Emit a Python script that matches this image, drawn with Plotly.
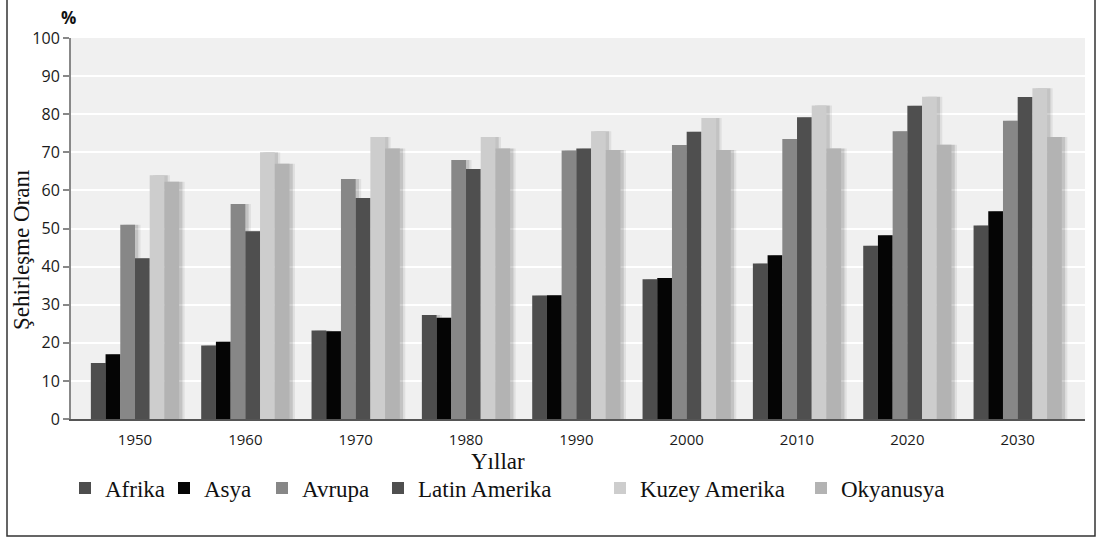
import plotly.graph_objects as go

# Urbanisation rate (%) by region and decade
years = ["1950", "1960", "1970", "1980", "1990", "2000", "2010", "2020", "2030"]
afrika = [14.7, 19.3, 23.2, 27.3, 32.4, 36.7, 40.8, 45.5, 50.8]
asya = [17.0, 20.3, 23.0, 26.6, 32.5, 37.0, 43.0, 48.2, 54.5]
avrupa = [51.0, 56.4, 63.0, 68.0, 70.5, 71.9, 73.5, 75.5, 78.3]
latin_amerika = [42.2, 49.3, 58.0, 65.6, 71.0, 75.4, 79.2, 82.2, 84.5]
kuzey_amerika = [64.0, 70.0, 74.0, 74.0, 75.5, 79.0, 82.3, 84.6, 86.8]
okyanusya = [62.3, 67.0, 71.0, 71.0, 70.6, 70.6, 71.0, 72.0, 74.0]

series = [
    ("Afrika", afrika, "#4d4d4d"),
    ("Asya", asya, "#050505"),
    ("Avrupa", avrupa, "#878787"),
    ("Latin Amerika", latin_amerika, "#4f4f4f"),
    ("Kuzey Amerika", kuzey_amerika, "#cdcdcd"),
    ("Okyanusya", okyanusya, "#b3b3b3"),
]

SERIF = "Liberation Serif, Times New Roman, serif"
SANS = "Open Sans, sans-serif"

W, H = 1101, 539
L, R, T, B = 71, 16, 38, 120
PW, PH = W - L - R, H - T - B


def px_x(px):
    return (px - L) / PW


def px_y(py):
    return (H - B - py) / PH


group_w = 0.8
bar_w = group_w / len(series)
fig = go.Figure()

# soft drop shadows behind the bars
for k, (name, vals, color) in enumerate(series):
    off = -group_w / 2 + k * bar_w
    for shift, alpha in ((0.05, 0.07), (0.03, 0.12)):
        fig.add_trace(go.Bar(
            x=years, y=vals, width=bar_w, offset=off + shift,
            marker=dict(color=f"rgba(0,0,0,{alpha})", line=dict(width=0)),
            showlegend=False, hoverinfo="skip",
        ))

legend_centers = [85, 184, 282, 398, 620, 821]
legend_names = ["legend", "legend2", "legend3", "legend4", "legend5", "legend6"]

for k, (name, vals, color) in enumerate(series):
    off = -group_w / 2 + k * bar_w
    fig.add_trace(go.Bar(
        x=years, y=vals, name=name, width=bar_w, offset=off,
        marker=dict(color=color, line=dict(width=0)),
        legend=legend_names[k],
    ))

legend_font = dict(family=SERIF, size=23, color="#111")
layout_legends = {}
for k, lg in enumerate(legend_names):
    layout_legends[lg] = dict(
        x=px_x(legend_centers[k] - 20), y=px_y(488),
        xanchor="left", yanchor="middle",
        orientation="h", bgcolor="rgba(0,0,0,0)",
        font=legend_font,
        itemclick=False, itemdoubleclick=False,
    )

fig.update_layout(
    width=W, height=H,
    margin=dict(l=L, r=R, t=T, b=B),
    paper_bgcolor="white",
    plot_bgcolor="#f0f0f0",
    font=dict(family=SERIF, size=23, color="#111"),
    barmode="overlay",
    showlegend=True,
    **layout_legends,
    xaxis=dict(
        type="category", range=[-0.58, 8.61],
        showgrid=False, ticks="", showline=True, linecolor="#555", linewidth=2,
        tickfont=dict(family=SANS, size=15, color="#1a1a1a"),
        ticklabelstandoff=6,
        fixedrange=True,
    ),
    yaxis=dict(
        range=[0, 100], dtick=10, tick0=0,
        showgrid=True, gridcolor="white", gridwidth=2,
        showline=True, linecolor="#888", linewidth=2,
        ticks="outside", ticklen=6, tickcolor="#888", tickwidth=2,
        tickfont=dict(family=SANS, size=16, color="#1a1a1a"),
        zeroline=False, fixedrange=True,
    ),
    annotations=[
        dict(text="<b>%</b>", x=px_x(68), y=px_y(18), xref="paper", yref="paper",
             xanchor="center", yanchor="middle", showarrow=False,
             font=dict(family=SANS, size=17, color="#111")),
        dict(text="Şehirleşme Oranı", x=px_x(21), y=px_y(250), xref="paper", yref="paper",
             xanchor="center", yanchor="middle", textangle=-90, showarrow=False,
             font=dict(family=SERIF, size=23, color="#111")),
        dict(text="Yıllar", x=px_x(498), y=px_y(461), xref="paper", yref="paper",
             xanchor="center", yanchor="middle", showarrow=False,
             font=dict(family=SERIF, size=23, color="#111")),
    ],
    shapes=[
        dict(type="rect", xref="paper", yref="paper",
             x0=px_x(7), x1=px_x(1095), y0=px_y(536), y1=px_y(-6),
             line=dict(color="#333", width=1.5), fillcolor="rgba(0,0,0,0)", layer="below"),
    ],
)

fig.write_html("out.html")
